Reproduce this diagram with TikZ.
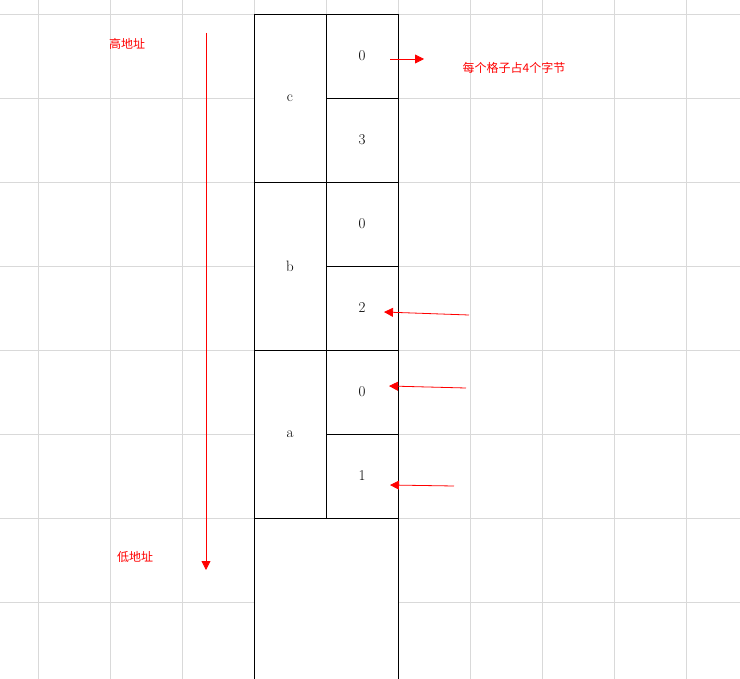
\documentclass[tikz,border=0pt]{standalone}
\usepackage{fontspec}
\newfontfamily\cjk{Noto Sans CJK SC}
\usepackage{tikz}
\usetikzlibrary{arrows.meta,positioning}

\begin{document}
\begin{tikzpicture}[x=1pt,y=-1pt]
		\tikzstyle{gridline}=[draw=gray!30, line width=0.8pt]
		\tikzstyle{cell}=[rectangle, draw=black, fill=white, line width=0.8pt, minimum width=72pt, minimum height=84pt, inner sep=0pt, outer sep=0pt, font=\fontsize{15}{17}\selectfont]
		\tikzstyle{var}=[cell, minimum height=168pt]
		\tikzstyle{note}=[text=red, inner sep=0pt, font=\cjk\fontsize{12}{14}\selectfont]
		\tikzstyle{connect}=[-{Triangle[length=9pt,width=9pt]}, draw=red, line width=0.8pt]
		\useasboundingbox (0,0) rectangle (740,679);
		\fill[white] (0,0) rectangle (740,679);
		% background grid
		\foreach \x in {38,110,...,686}
			\draw[gridline] (\x,0) -- (\x,679);
		\foreach \y in {14,98,...,602}
			\draw[gridline] (0,\y) -- (740,\y);
		% variables
		\node[var] (c) at (290,98) {c};
		\node[var] (b) [below=0pt of c] {b};
		\node[var] (a) [below=0pt of b] {a};
		% 4-byte cells
		\node[cell] (c0) at (362,56) {0};
		\node[cell] (c3) [below=0pt of c0] {3};
		\node[cell] (b0) [below=0pt of c3] {0};
		\node[cell] (b2) [below=0pt of b0] {2};
		\node[cell] (a0) [below=0pt of b2] {0};
		\node[cell] (a1) [below=0pt of a0] {1};
		\coordinate (footl) at (254,680);
		\coordinate (footr) at (398,680);
		\fill[white] ([yshift=-1pt]a.south west) rectangle (footr);
		\draw[line width=0.8pt] (a.south west) -- (footl);
		\draw[line width=0.8pt] (a1.south east) -- (footr);
		% notes
		\node[note] (high) at (127,44) {高地址};
		\node[note] (low) at (135,557) {低地址};
		\node[note] (size) at (514,68) {每个格子占4个字节};
		\coordinate (top) at (206,33);
		\coordinate (bottom) at (206,570);
		\coordinate (ptr) at (390,59);
		\coordinate (ptrend) at (424,59);
		\coordinate (p1) at (469,315);
		\coordinate (t1) at (384,312);
		\coordinate (p2) at (466,388);
		\coordinate (t2) at (389,386);
		\coordinate (p3) at (454,486);
		\coordinate (t3) at (390,485);
		\path
		(top) edge [connect] (bottom)
		(ptr) edge [connect] (ptrend)
		(p1) edge [connect] (t1)
		(p2) edge [connect] (t2)
		(p3) edge [connect] (t3);
\end{tikzpicture}
\end{document}
